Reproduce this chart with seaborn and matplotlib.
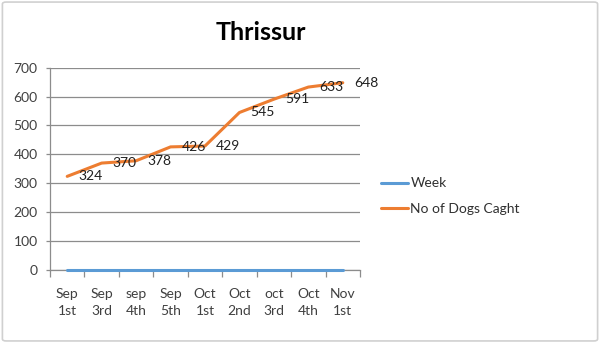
import matplotlib
matplotlib.use("Agg")
import matplotlib.pyplot as plt
import seaborn as sns
import pandas as pd
from matplotlib.patches import FancyBboxPatch
from matplotlib.ticker import FixedLocator
from matplotlib.lines import Line2D

weeks = ["Sep\n1st", "Sep\n3rd", "sep\n4th", "Sep\n5th", "Oct\n1st",
         "Oct\n2nd", "oct\n3rd", "Oct\n4th", "Nov\n1st"]
week_values = [0, 0, 0, 0, 0, 0, 0, 0, 0]
dogs_caught = [324, 370, 378, 426, 429, 545, 591, 633, 648]
series_names = ["Week", "No of Dogs Caght"]
title = "Thrissur"

sns.set_theme(style="white")
plt.rcParams["font.family"] = ["Lato", "DejaVu Sans"]

df = pd.DataFrame({
    "x": list(range(len(weeks))) * 2,
    "value": week_values + dogs_caught,
    "series": [series_names[0]] * len(weeks) + [series_names[1]] * len(weeks),
})

fig = plt.figure(figsize=(6.0, 3.43), dpi=100)
fig.patch.set_facecolor("white")
border = FancyBboxPatch((0.004, 0.006), 0.992, 0.988, boxstyle="round,pad=0,rounding_size=0.006",
                        transform=fig.transFigure, facecolor="none", edgecolor="#D0D0D0", lw=1.2)
fig.patches.append(border)

ax = fig.add_axes([50 / 600, 1 - 270 / 343, 310 / 600, (270 - 67.7) / 343])
palette = {series_names[0]: "#5B9BD5", series_names[1]: "#ED7D31"}
sns.lineplot(data=df, x="x", y="value", hue="series", palette=palette, ax=ax,
             linewidth=2.2, legend=False, zorder=3)
for ln in ax.lines:
    ln.set_clip_on(False)

ax.set_xlim(-0.5, len(weeks) - 0.5)
ax.set_ylim(0, 700)
ax.set_yticks(range(0, 701, 100))
ax.yaxis.grid(True, color="#8C8C8C", lw=0.9)
ax.set_axisbelow(True)
for s in ["top", "right"]:
    ax.spines[s].set_visible(False)
for s in ["left", "bottom"]:
    ax.spines[s].set_color("#8C8C8C")
    ax.spines[s].set_linewidth(0.9)

ax.set_xticks(range(len(weeks)))
ax.set_xticklabels(weeks, fontsize=10, color="#404040", linespacing=1.5)
ax.xaxis.set_minor_locator(FixedLocator([i - 0.5 for i in range(len(weeks) + 1)]))
ax.tick_params(axis="x", which="major", length=0, pad=13)
ax.tick_params(axis="x", which="minor", length=5, width=0.9, color="#8C8C8C", bottom=True)
ax.tick_params(axis="y", which="major", length=3, width=0.9, color="#8C8C8C", left=True,
               labelsize=10, labelcolor="#404040", pad=6)
ax.set_xlabel("")
ax.set_ylabel("")

for i, v in enumerate(dogs_caught):
    ax.annotate(str(v), (i, v), xytext=(11, 0), textcoords="offset pixels",
                ha="left", va="center", fontsize=10, color="#202020", zorder=4)

fig.text(261 / 600, 1 - 32 / 343, title, ha="center", va="center",
         fontsize=18, fontweight="bold", color="black")

handles = [Line2D([], [], color=palette[n], lw=2.2) for n in series_names]
fig.legend(handles, series_names, loc="center left", bbox_to_anchor=(368 / 600, 1 - 196 / 343),
           frameon=False, fontsize=10, handlelength=2.0, handletextpad=0.15, labelspacing=0.95,
           labelcolor="#303030")

fig.savefig("out.png", dpi=100)
